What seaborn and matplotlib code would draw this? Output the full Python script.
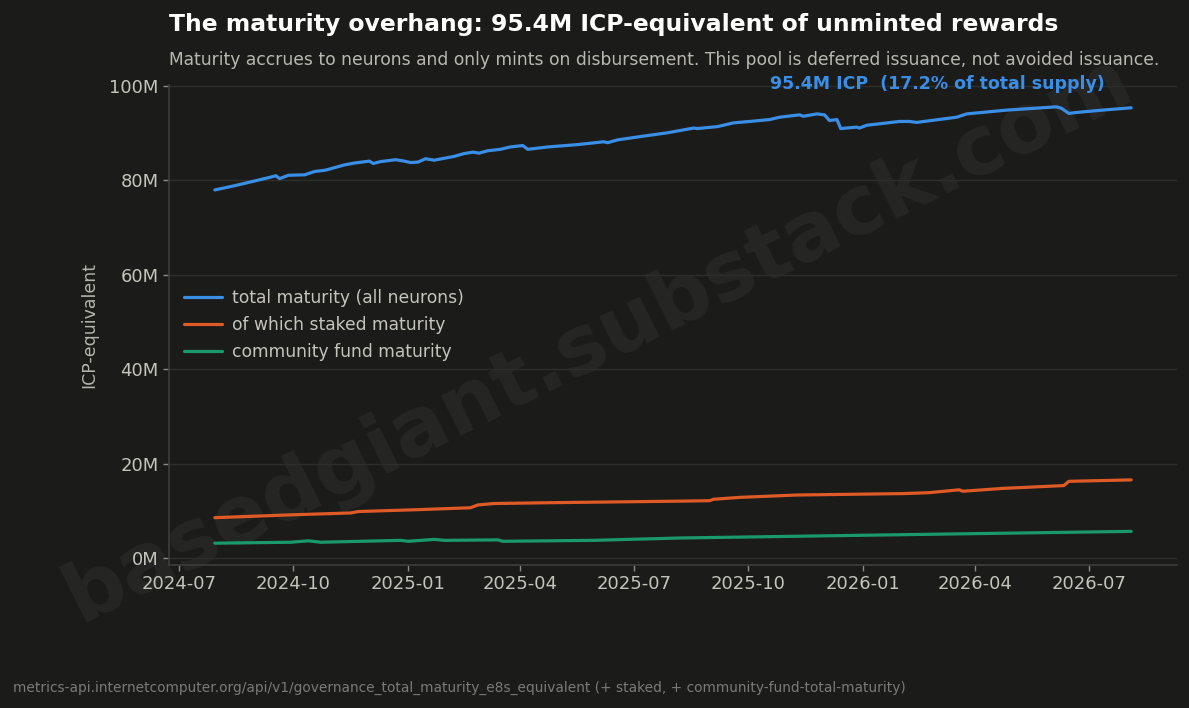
import pandas as pd
import numpy as np
import seaborn as sns
import matplotlib.pyplot as plt
import matplotlib.dates as mdates
from matplotlib.ticker import FuncFormatter

# values (millions of ICP-equivalent)

total_dates = ['2024-07-30', '2024-08-15', '2024-08-31', '2024-09-11', '2024-09-17', '2024-09-20',
               '2024-09-27', '2024-10-10', '2024-10-18', '2024-10-27', '2024-11-11', '2024-11-19',
               '2024-12-01', '2024-12-04', '2024-12-10', '2024-12-22', '2024-12-29', '2025-01-03',
               '2025-01-09', '2025-01-15', '2025-01-22', '2025-02-07', '2025-02-15', '2025-02-22',
               '2025-02-27', '2025-03-06', '2025-03-16', '2025-03-24', '2025-04-03', '2025-04-07',
               '2025-04-23', '2025-05-17', '2025-06-07', '2025-06-10', '2025-06-18', '2025-07-09',
               '2025-07-28', '2025-08-18', '2025-08-21', '2025-09-06', '2025-09-19', '2025-10-02',
               '2025-10-18', '2025-10-26', '2025-11-11', '2025-11-14', '2025-11-25', '2025-12-01',
               '2025-12-05', '2025-12-11', '2025-12-14', '2025-12-27', '2025-12-29', '2026-01-04',
               '2026-01-14', '2026-01-30', '2026-02-07', '2026-02-13', '2026-03-17', '2026-03-25',
               '2026-04-26', '2026-06-05', '2026-06-09', '2026-06-15', '2026-06-21', '2026-07-12',
               '2026-08-04']
total_vals = [78.0, 78.9, 79.9, 80.6, 81.0, 80.4,
              81.1, 81.2, 81.9, 82.2, 83.3, 83.7,
              84.1, 83.6, 84.0, 84.4, 84.1, 83.8,
              83.9, 84.6, 84.3, 85.1, 85.7, 86.0,
              85.8, 86.3, 86.6, 87.1, 87.4, 86.6,
              87.1, 87.6, 88.2, 88.0, 88.6, 89.4,
              90.1, 91.1, 91.0, 91.4, 92.2, 92.5,
              92.9, 93.4, 93.9, 93.6, 94.1, 93.9,
              92.7, 92.9, 91.0, 91.3, 91.1, 91.7,
              92.0, 92.5, 92.5, 92.3, 93.4, 94.1,
              94.9, 95.6, 95.3, 94.2, 94.4, 94.9,
              95.4]

staked_dates = ['2024-07-30', '2024-09-29', '2024-11-16', '2024-11-22', '2025-01-09', '2025-02-20',
                '2025-02-26', '2025-03-11', '2025-05-03', '2025-08-07', '2025-08-31', '2025-09-03',
                '2025-09-24', '2025-11-09', '2026-02-02', '2026-02-23', '2026-03-19', '2026-03-22',
                '2026-04-23', '2026-06-11', '2026-06-15', '2026-08-04']
staked_vals = [8.6, 9.2, 9.6, 9.9, 10.3, 10.7,
               11.3, 11.6, 11.8, 12.1, 12.2, 12.5,
               12.9, 13.4, 13.7, 13.9, 14.5, 14.2,
               14.8, 15.4, 16.3, 16.6]

cf_dates = ['2024-07-30', '2024-09-29', '2024-10-13', '2024-10-23', '2024-12-26', '2025-01-01',
            '2025-01-22', '2025-01-30', '2025-03-14', '2025-03-18', '2025-05-30', '2025-08-07',
            '2026-02-02', '2026-08-04']
cf_vals = [3.2, 3.4, 3.7, 3.4, 3.8, 3.6,
           4.0, 3.8, 3.9, 3.6, 3.8, 4.3,
           5.0, 5.7]

series_labels = ['total maturity (all neurons)', 'of which staked maturity', 'community fund maturity']
series_colors = ['#3a8ee6', '#e05a28', '#1a9a6c']

title = 'The maturity overhang: 95.4M ICP-equivalent of unminted rewards'
subtitle = ('Maturity accrues to neurons and only mints on disbursement. '
            'This pool is deferred issuance, not avoided issuance.')
callout = '95.4M ICP  (17.2% of total supply)'
footer = ('metrics-api.internetcomputer.org/api/v1/governance_total_maturity_e8s_equivalent '
          '(+ staked, + community-fund-total-maturity)')
watermark = 'basedgiant.substack.com'

bg = '#1b1b19'
txt = '#c4c4bc'

sns.set_theme(style='dark', rc={
    'figure.facecolor': bg, 'axes.facecolor': bg, 'savefig.facecolor': bg,
    'axes.edgecolor': '#3c3c3a', 'grid.color': '#2e2e2c',
    'text.color': txt, 'axes.labelcolor': txt,
    'xtick.color': txt, 'ytick.color': txt,
})
plt.rcParams['font.family'] = ['DejaVu Sans']

frames = []
for d, v, lab in [(total_dates, total_vals, series_labels[0]),
                  (staked_dates, staked_vals, series_labels[1]),
                  (cf_dates, cf_vals, series_labels[2])]:
    frames.append(pd.DataFrame({'date': pd.to_datetime(d), 'value': v, 'series': lab}))
df = pd.concat(frames, ignore_index=True)

fig = plt.figure(figsize=(11.89, 7.08), dpi=100)
ax = fig.add_axes([169 / 1189, 1 - 565 / 708, 1008 / 1189, 480 / 708])

# watermark behind everything
fig.text(0.503, 0.522, watermark, rotation=26.5, ha='center', va='center',
         rotation_mode='anchor', fontsize=59, fontweight='heavy', color='#262625', zorder=0)
ax.set_zorder(1)
ax.patch.set_alpha(0)

sns.lineplot(data=df, x='date', y='value', hue='series', hue_order=series_labels,
             palette=series_colors, linewidth=2.3, ax=ax, estimator=None, sort=True)

ax.yaxis.grid(True, color='#2e2e2c', linewidth=1)
ax.xaxis.grid(False)
for s in ['top', 'right']:
    ax.spines[s].set_visible(False)
ax.spines['left'].set_color('#3c3c3a')
ax.spines['bottom'].set_color('#3c3c3a')

ax.yaxis.set_major_formatter(FuncFormatter(lambda v, p: f'{v:.0f}M'))
ax.xaxis.set_major_locator(mdates.MonthLocator(bymonth=[1, 4, 7, 10]))
ax.xaxis.set_major_formatter(mdates.DateFormatter('%Y-%m'))
ax.tick_params(axis='both', labelsize=13, length=4, width=1, color='#8a8a84',
               left=True, bottom=True)
ax.set_xlabel('')
ax.set_ylabel('ICP-equivalent', fontsize=12.5, color='#b4b4ac', labelpad=8)

leg = ax.legend(loc='center left', frameon=False, fontsize=12.3, handlelength=2.2,
                handletextpad=0.6)
for t in leg.get_texts():
    t.set_color(txt)

ax.text((1105 - 169) / 1008, (565 - 84) / 480, callout, transform=ax.transAxes,
        ha='right', va='center', fontsize=12.5, fontweight='bold', color=series_colors[0])

fig.text(169 / 1189, 1 - 24 / 708, title, ha='left', va='center',
         fontsize=16.9, fontweight='bold', color='#ffffff')
fig.text(169 / 1189, 1 - 60 / 708, subtitle, ha='left', va='center',
         fontsize=12.3, color='#b8b8b0')
fig.text(13 / 1189, 1 - 688 / 708, footer, ha='left', va='center',
         fontsize=9.9, color='#7a7a76')

fig.savefig('out.png', dpi=100)
